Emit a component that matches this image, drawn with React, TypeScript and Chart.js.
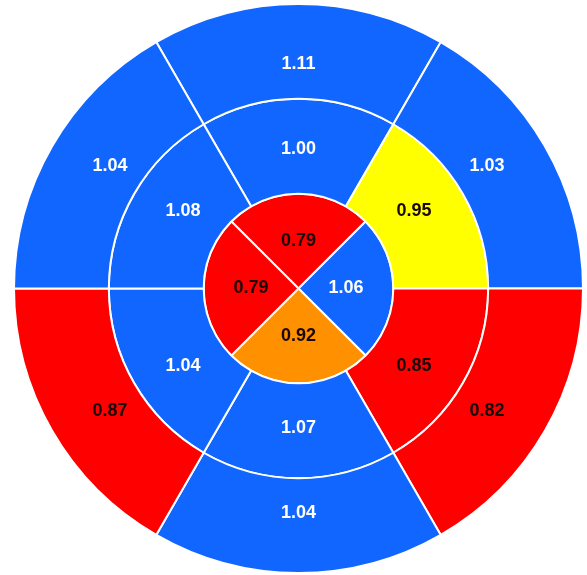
import React, { useEffect, useRef } from "react";
import { Chart, registerables } from "chart.js";

Chart.register(...registerables);

// Values, clockwise from the top segment of each ring
const outerValues = [1.11, 1.03, 0.82, 1.04, 0.87, 1.04];
const middleValues = [1.0, 0.95, 0.85, 1.07, 1.04, 1.08];
const innerValues = [0.79, 1.06, 0.92, 0.79];

const BLUE = "#1166FF";
const RED = "#FF0000";
const YELLOW = "#FFFF00";
const ORANGE = "#FF9000";

const outerColors = [BLUE, BLUE, RED, BLUE, RED, BLUE];
const middleColors = [BLUE, YELLOW, RED, BLUE, BLUE, BLUE];
const innerColors = [RED, BLUE, ORANGE, RED];

const labelPlugin = {
  id: "segLabels",
  afterDatasetsDraw(chart: any) {
    const ctx = chart.ctx;
    const fractions = [0.37, 0.47, 0.5];
    const angleShift = [3, 4, 0];
    chart.data.datasets.forEach((ds: any, di: number) => {
      const meta = chart.getDatasetMeta(di);
      meta.data.forEach((arc: any, i: number) => {
        const { x, y, startAngle, endAngle, innerRadius, outerRadius } = arc.getProps(
          ["x", "y", "startAngle", "endAngle", "innerRadius", "outerRadius"],
          true
        );
        let a = (startAngle + endAngle) / 2;
        a = Math.atan2(Math.sin(a), Math.cos(a));
        if (Math.abs(Math.cos(a)) > 0.05) {
          const target = Math.sin(a) < 0 ? -Math.PI / 2 : Math.PI / 2;
          a += Math.sign(target - a) * (angleShift[di] * Math.PI) / 180;
        }
        const r = innerRadius + (outerRadius - innerRadius) * fractions[di];
        const px = x + Math.cos(a) * r;
        const py = y + Math.sin(a) * r;
        const color = ds.backgroundColor[i] === BLUE ? "#FFFFFF" : "#1a0808";
        ctx.save();
        ctx.font = "bold 18px 'Liberation Sans', Arial, sans-serif";
        ctx.fillStyle = color;
        ctx.textAlign = "center";
        ctx.textBaseline = "middle";
        ctx.fillText(ds.valuesText[i], px, py);
        ctx.restore();
      });
    });
  },
};

export default function App() {
  const ref = useRef<HTMLCanvasElement>(null);
  useEffect(() => {
    if (!ref.current) return;
    const mk = (vals: number[], colors: string[], rot: number) => ({
      data: vals.map(() => 1),
      valuesText: vals.map((v) => v.toFixed(2)),
      backgroundColor: colors,
      borderColor: "#FFFFFF",
      borderWidth: 2,
      rotation: rot,
      weight: 1,
    });
    const chart = new Chart(ref.current, {
      type: "doughnut",
      data: {
        labels: ["a", "b", "c", "d", "e", "f"],
        datasets: [
          mk(outerValues, outerColors, -30),
          mk(middleValues, middleColors, -30),
          mk(innerValues, innerColors, -45),
        ] as any,
      },
      options: {
        responsive: false,
        animation: false,
        cutout: 0,
        layout: { padding: { left: 13, right: 3, top: 2, bottom: 0 } },
        plugins: {
          legend: { display: false },
          tooltip: { enabled: false },
        },
      },
      plugins: [labelPlugin],
    });
    return () => chart.destroy();
  }, []);
  return (
    <div style={{ position: "fixed", left: 0, top: 0, width: 587, height: 575, background: "#fff" }}>
      <canvas ref={ref} width={587} height={575} style={{ display: "block" }} />
    </div>
  );
}
